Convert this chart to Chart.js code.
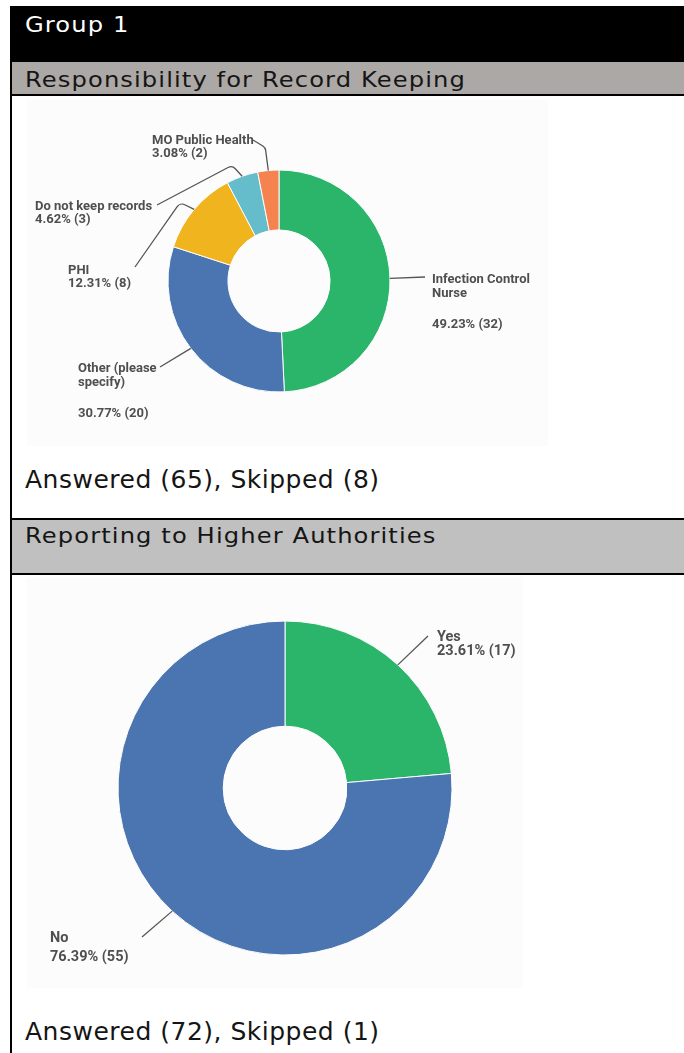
<!DOCTYPE html>
<html>
<head>
<meta charset="utf-8">
<title>Group 1</title>
<script src="https://cdn.jsdelivr.net/npm/chart.js@4.4.1/dist/chart.umd.min.js"></script>
<style>
  html, body { margin: 0; padding: 0; background: #fff; }
  body { width: 684px; height: 1053px; position: relative; overflow: hidden; font-family: "DejaVu Sans", sans-serif; }
  .box { position: absolute; }
  .txt { position: absolute; white-space: nowrap; line-height: 1; transform-origin: 0 0; }
  .head { font-size: 22px; letter-spacing: 1px; transform: scaleX(1.1); }
  .note { font-size: 25px; letter-spacing: 0.5px; color: #151515; }
  .shot { position: absolute; background: #fcfcfc; }
  .shot canvas { display: block; filter: blur(0.5px); }
</style>
</head>
<body>
  <!-- table frame -->
  <div class="box" style="left:10px;top:6px;width:2px;height:1047px;background:#000"></div>
  <div class="box" style="left:10px;top:6px;width:674px;height:56px;background:#000"></div>
  <div class="txt head" style="left:25px;top:14px;color:#fff">Group 1</div>

  <div class="box" style="left:12px;top:62px;width:672px;height:32px;background:#aca8a6"></div>
  <div class="txt head" style="left:25px;top:69px;color:#151515">Responsibility for Record Keeping</div>
  <div class="box" style="left:10px;top:94px;width:674px;height:2px;background:#000"></div>

  <div class="shot" style="left:27px;top:100px;width:521px;height:346px"><canvas id="recordKeeping" width="521" height="346"></canvas></div>
  <div class="txt note" style="left:25px;top:467px">Answered (65), Skipped (8)</div>

  <div class="box" style="left:10px;top:518px;width:674px;height:2px;background:#000"></div>
  <div class="box" style="left:12px;top:520px;width:672px;height:53px;background:#c0c0c0"></div>
  <div class="txt head" style="left:25px;top:525px;color:#151515">Reporting to Higher Authorities</div>
  <div class="box" style="left:10px;top:573px;width:674px;height:2px;background:#000"></div>

  <div class="shot" style="left:27px;top:577px;width:496px;height:411px"><canvas id="reporting" width="496" height="411"></canvas></div>
  <div class="txt note" style="left:25px;top:1019px">Answered (72), Skipped (1)</div>

<script>
// Responsibility for record keeping (n = 65)
const recordLabels = [['Infection Control', 'Nurse'], ['Other (please', 'specify)'], ['PHI'], ['Do not keep records'], ['MO Public Health']];
const recordCounts = [32, 20, 8, 3, 2];
const recordColors = ['#2bb56a', '#4a75b0', '#f0b41e', '#65bccb', '#f5834f'];

// Reporting to higher authorities (n = 72)
const reportLabels = [['Yes'], ['No']];
const reportCounts = [17, 55];
const reportColors = ['#2bb56a', '#4a75b0'];

// places each callout: text origin (left, first baseline), line height, extra gap before the
// value line, where the leader leaves the text, and an optional bend relative to the slice edge
const recordCallouts = [
    { x: 405, y: 183, lh: 14, gap: 17, from: [398, 177], bend: null },
    { x: 51, y: 272, lh: 14, gap: 17, from: [133, 267], bend: null },
    { x: 41, y: 174, lh: 13, gap: 0, from: [108, 167], bend: [-14, -7] },
    { x: 8, y: 110, lh: 13, gap: 0, from: [130, 105], bend: [-10, -11] },
    { x: 125, y: 44, lh: 13, gap: 0, from: [226, 40], bend: [-3, -23] }
];
const reportCallouts = [
    { x: 410, y: 64, lh: 14, gap: 0, from: [401, 59], bend: null },
    { x: 23, y: 365, lh: 19, gap: 0, from: [115, 360], bend: null }
];

const callouts = {
    id: 'callouts',
    afterDatasetsDraw(chart, args, opts) {
        const ctx = chart.ctx;
        const counts = chart.data.datasets[0].data;
        const total = counts.reduce((a, b) => a + b, 0);
        chart.getDatasetMeta(0).data.forEach((arc, i) => {
            const p = arc.getProps(['x', 'y', 'startAngle', 'endAngle', 'outerRadius'], true);
            const mid = (p.startAngle + p.endAngle) / 2;
            const ax = p.x + Math.cos(mid) * p.outerRadius;
            const ay = p.y + Math.sin(mid) * p.outerRadius;
            const c = opts.items[i];

            ctx.save();
            ctx.strokeStyle = '#555';
            ctx.lineWidth = 1.3;
            ctx.lineJoin = 'round';
            ctx.beginPath();
            ctx.moveTo(c.from[0], c.from[1]);
            if (c.bend) {
                ctx.arcTo(ax + c.bend[0], ay + c.bend[1], ax, ay, 6);
            }
            ctx.lineTo(ax, ay);
            ctx.stroke();

            ctx.fillStyle = '#4f4f4f';
            ctx.font = `bold ${opts.size}px Roboto, sans-serif`;
            ctx.textBaseline = 'alphabetic';
            const lines = chart.data.labels[i];
            lines.forEach((t, k) => ctx.fillText(t, c.x, c.y + k * c.lh));
            const pct = (counts[i] / total * 100).toFixed(2);
            ctx.fillText(`${pct}% (${counts[i]})`, c.x, c.y + lines.length * c.lh + c.gap);
            ctx.restore();
        });
    }
};

function donut(id, labels, counts, colors, radius, cutout, items, size) {
    const canvas = document.getElementById(id);
    const w = canvas.width, h = canvas.height;
    // centre of the ring inside the canvas
    const cx = items.centre[0], cy = items.centre[1];
    return new Chart(canvas, {
        type: 'doughnut',
        data: {
            labels: labels,
            datasets: [{
                data: counts,
                backgroundColor: colors,
                borderColor: '#fcfcfc',
                borderWidth: 1
            }]
        },
        options: {
            responsive: false,
            animation: false,
            devicePixelRatio: 1,
            events: [],
            radius: radius,
            cutout: cutout,
            layout: {
                padding: {
                    left: Math.max(0, 2 * cx - w),
                    right: Math.max(0, w - 2 * cx),
                    top: Math.max(0, 2 * cy - h),
                    bottom: Math.max(0, h - 2 * cy)
                }
            },
            plugins: {
                legend: { display: false },
                tooltip: { enabled: false },
                callouts: { items: items.list, size: size }
            }
        },
        plugins: [callouts]
    });
}

donut('recordKeeping', recordLabels, recordCounts, recordColors, 111, '46%',
    { centre: [252, 181], list: recordCallouts }, 13);
donut('reporting', reportLabels, reportCounts, reportColors, 167, '37%',
    { centre: [258, 211], list: reportCallouts }, 14.5);
</script>
</body>
</html>
